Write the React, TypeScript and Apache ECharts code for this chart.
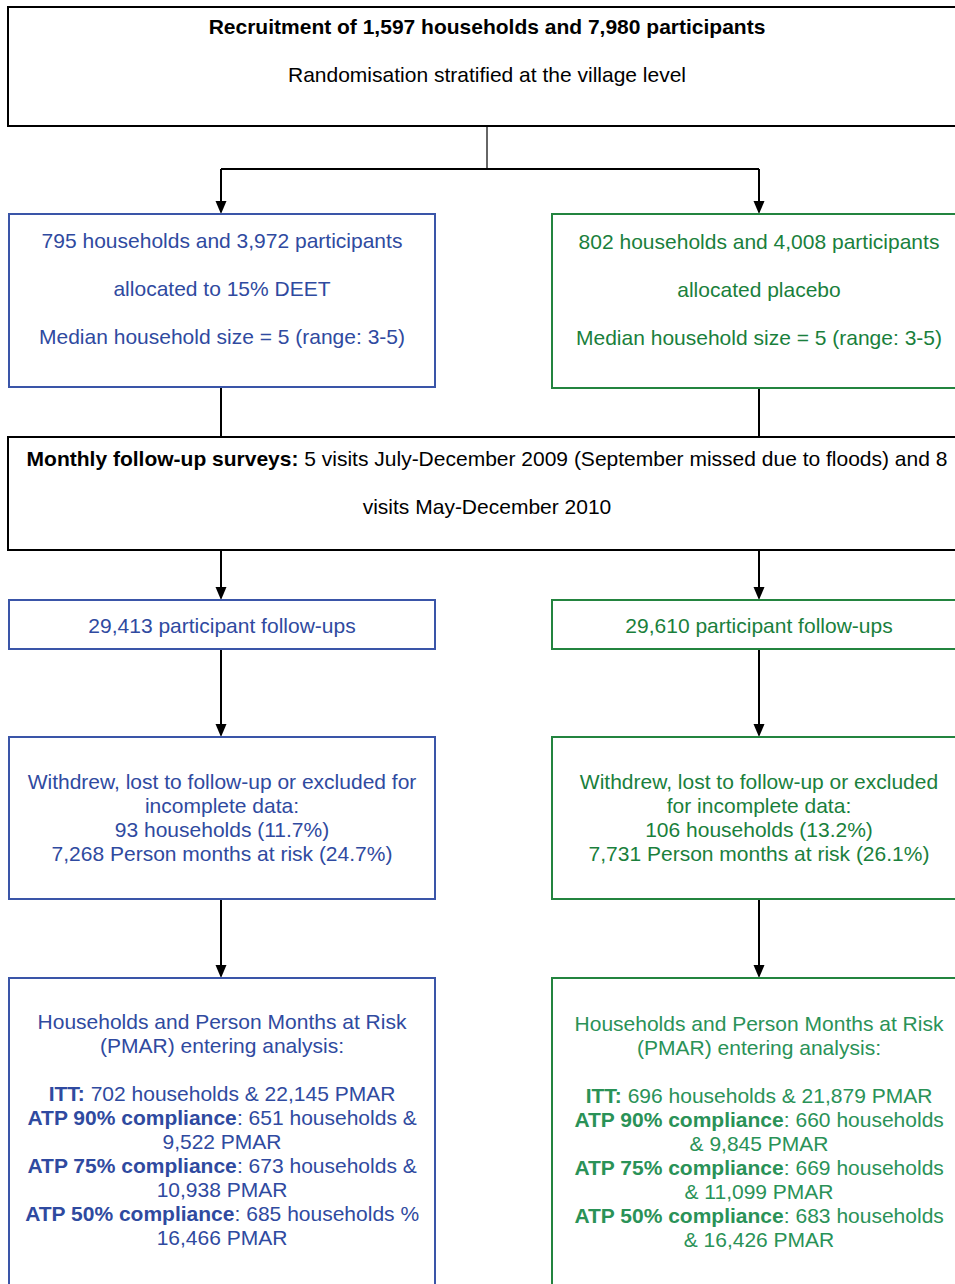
import React, { useEffect, useRef } from "react";
import * as echarts from "echarts";

const BLUE = "#2f4aa0";
const BLUE_BORDER = "#3a55a8";
const GREEN = "#1a7f3c";
const GREEN_BORDER = "#23843f";
const GREEN_LIGHT = "#2a9257";
const BLACK = "#000000";
const FONT = "'Liberation Sans', Arial, sans-serif";

const recruitLines: string[][] = [
  ["Recruitment of 1,597 households and 7,980 participants", ""],
  ["", "Randomisation stratified at the village level"],
];
const deetLines = [
  "795 households and 3,972 participants",
  "allocated to 15% DEET",
  "Median household size = 5 (range: 3-5)",
];
const placeboLines = [
  "802 households and 4,008 participants",
  "allocated placebo",
  "Median household size = 5 (range: 3-5)",
];
const followupLines: string[][] = [
  ["Monthly follow-up surveys:", " 5 visits July-December 2009 (September missed due to floods) and 8"],
  ["", "visits May-December 2010"],
];
const deetFollowups = ["29,413 participant follow-ups"];
const placeboFollowups = ["29,610 participant follow-ups"];
const deetWithdrew = [
  "Withdrew, lost to follow-up or excluded for",
  "incomplete data:",
  "93 households (11.7%)",
  "7,268 Person months at risk (24.7%)",
];
const placeboWithdrew = [
  "Withdrew, lost to follow-up or excluded",
  "for incomplete data:",
  "106 households (13.2%)",
  "7,731 Person months at risk (26.1%)",
];
const deetAnalysis: string[][] = [
  ["", "Households and Person Months at Risk"],
  ["", "(PMAR) entering analysis:"],
  ["", ""],
  ["ITT:", " 702 households & 22,145 PMAR"],
  ["ATP 90% compliance", ": 651 households &"],
  ["", "9,522 PMAR"],
  ["ATP 75% compliance", ": 673 households &"],
  ["", "10,938 PMAR"],
  ["ATP 50% compliance", ": 685 households %"],
  ["", "16,466 PMAR"],
];
const placeboAnalysis: string[][] = [
  ["", "Households and Person Months at Risk"],
  ["", "(PMAR) entering analysis:"],
  ["", ""],
  ["ITT:", " 696 households & 21,879 PMAR"],
  ["ATP 90% compliance", ": 660 households"],
  ["", "& 9,845 PMAR"],
  ["ATP 75% compliance", ": 669 households"],
  ["", "& 11,099 PMAR"],
  ["ATP 50% compliance", ": 683 households"],
  ["", "& 16,426 PMAR"],
];

function richLine(parts: string[]): string {
  const [b, n] = parts;
  let s = "";
  if (b) s += "{b|" + b + "}";
  if (n) s += "{n|" + n + "}";
  return s || " ";
}

function App() {
  const ref = useRef<HTMLDivElement>(null);
  useEffect(() => {
    if (!ref.current) return;
    const chart = echarts.init(ref.current, null, { renderer: "svg" });
    const fs = 21;
    const els: any[] = [];

    const box = (x: number, y: number, w: number, h: number, stroke: string, lw = 2) => {
      els.push({
        type: "rect",
        shape: { x, y, width: w, height: h },
        style: { fill: "#fff", stroke, lineWidth: lw },
      });
    };
    const line = (x1: number, y1: number, x2: number, y2: number, lw = 2, stroke = BLACK) => {
      els.push({
        type: "line",
        shape: { x1, y1, x2, y2 },
        style: { stroke, lineWidth: lw },
      });
    };
    const arrow = (x: number, y1: number, y2: number) => {
      line(x, y1, x, y2 - 10);
      els.push({
        type: "polygon",
        shape: { points: [[x - 5.5, y2 - 13], [x + 5.5, y2 - 13], [x, y2]] },
        style: { fill: BLACK },
      });
    };
    const plainText = (lines: string[], cx: number, y0: number, step: number, color: string) => {
      lines.forEach((t, i) => {
        els.push({
          type: "text",
          x: cx,
          y: y0 + i * step - 1,
          style: {
            text: t,
            fill: color,
            font: `${fs}px ${FONT}`,
            align: "center",
            verticalAlign: "middle",
          },
        });
      });
    };
    const richText = (lines: string[][], cx: number, y0: number, step: number, color: string) => {
      lines.forEach((p, i) => {
        if (!p[0] && !p[1]) return;
        els.push({
          type: "text",
          x: cx,
          y: y0 + i * step - 1,
          style: {
            text: richLine(p),
            align: "center",
            verticalAlign: "middle",
            fill: color,
            font: `${fs}px ${FONT}`,
            rich: {
              b: { fill: color, fontFamily: FONT, fontSize: fs, fontWeight: "bold" },
              n: { fill: color, fontFamily: FONT, fontSize: fs, fontWeight: "normal" },
            },
          },
        });
      });
    };

    const LX = 221;
    const RX = 759;

    // connectors
    line(487, 126, 487, 169, 1.5, "#333");
    line(LX, 169, RX, 169);
    arrow(LX, 169, 214);
    arrow(RX, 169, 214);
    line(LX, 387, LX, 437);
    line(RX, 388, RX, 437);
    arrow(LX, 550, 600);
    arrow(RX, 550, 600);
    arrow(LX, 649, 737);
    arrow(RX, 649, 737);
    arrow(LX, 899, 978);
    arrow(RX, 899, 978);

    // boxes
    box(8, 7, 960, 119, BLACK, 2);
    box(9, 214, 426, 173, BLUE_BORDER);
    box(552, 214, 410, 174, GREEN_BORDER);
    box(8, 437, 960, 113, BLACK, 2);
    box(9, 600, 426, 49, BLUE_BORDER);
    box(552, 600, 410, 49, GREEN_BORDER);
    box(9, 737, 426, 162, BLUE_BORDER);
    box(552, 737, 410, 162, GREEN_BORDER);
    box(9, 978, 426, 320, BLUE_BORDER);
    box(552, 978, 410, 320, GREEN_BORDER);

    // texts
    richText(recruitLines, 487, 27, 48, BLACK);
    plainText(deetLines, 222, 241, 48, BLUE);
    plainText(placeboLines, 759, 242, 48, GREEN);
    richText(followupLines, 487, 459, 48, BLACK);
    plainText(deetFollowups, 222, 626, 24, BLUE);
    plainText(placeboFollowups, 759, 626, 24, GREEN);
    plainText(deetWithdrew, 222, 782, 24, BLUE);
    plainText(placeboWithdrew, 759, 782, 24, GREEN);
    richText(deetAnalysis, 222, 1022, 24.1, BLUE);
    richText(placeboAnalysis, 759, 1024, 24.1, GREEN_LIGHT);

    chart.setOption({
      animation: false,
      graphic: { elements: els },
    });
    return () => chart.dispose();
  }, []);

  return (
    <div
      ref={ref}
      style={{ position: "absolute", left: 0, top: 0, width: 955, height: 1284, background: "#fff" }}
    />
  );
}

export default App;
